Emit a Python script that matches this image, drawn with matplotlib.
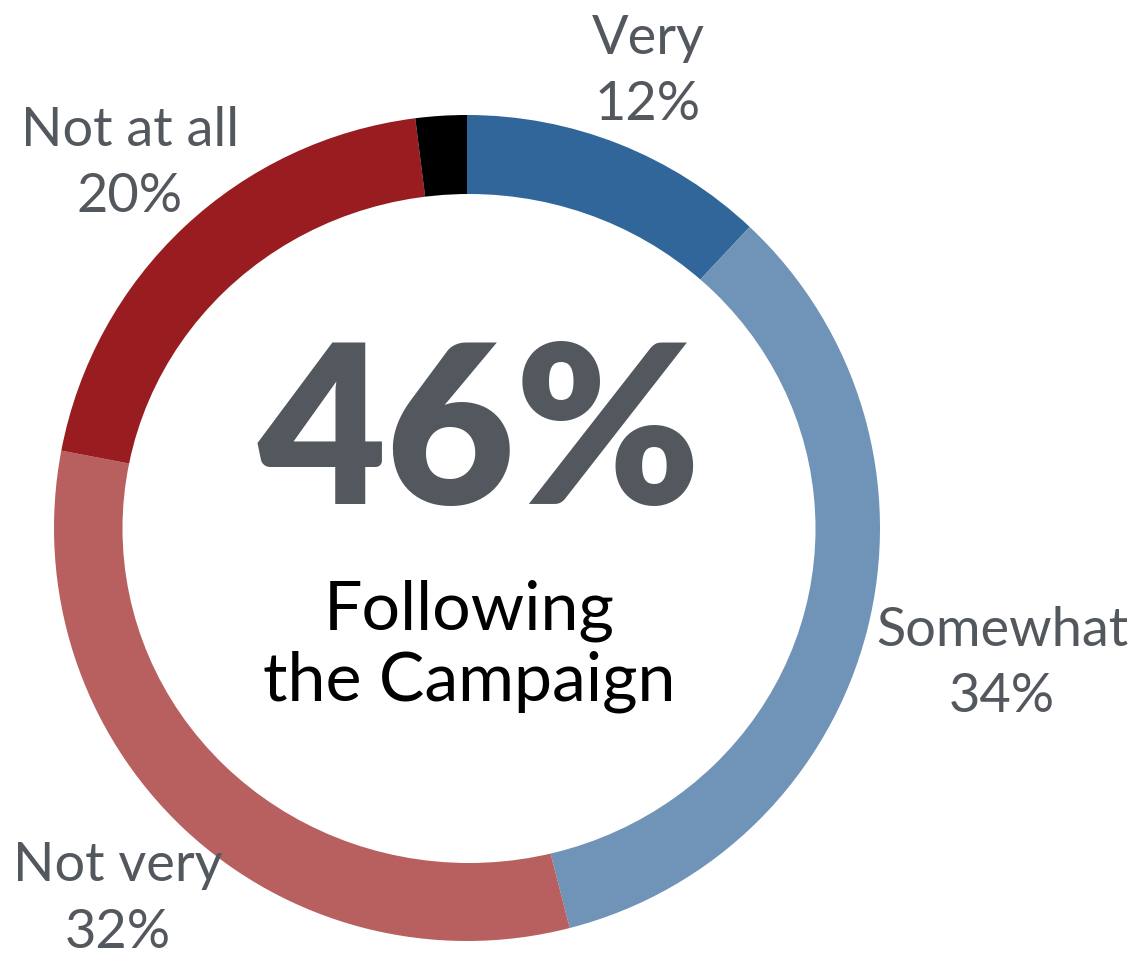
import matplotlib
matplotlib.use("Agg")
import matplotlib.pyplot as plt
from matplotlib.patches import Ellipse

# data
labels = ["Very", "Somewhat", "Not very", "Not at all", ""]
values = [12, 34, 32, 20, 2]
colors = ["#31669A", "#6F94B8", "#B7605F", "#981C20", "#000000"]
headline = "46%"
subtitle = "Following\nthe Campaign"

# label anchor positions in pixels (x, y of label line)
label_pos = [(648, 38), (1002, 630), (118, 866), (130, 130)]

plt.rcParams['font.family'] = ['Lato', 'DejaVu Sans']

fig = plt.figure(figsize=(11.39, 9.58), dpi=100)
ax = fig.add_axes([0, 0, 1, 1])

cx, cy, r = 467, 528, 413
# y axis is inverted below, so -90 is the top and ccw reads clockwise
ax.pie(values, colors=colors, startangle=-90, counterclock=True,
       center=(cx, cy), radius=r, wedgeprops=dict(linewidth=0),
       frame=True)
# the hole in the original is slightly wider than tall
ax.add_patch(Ellipse((469, 528.5), 693, 669, facecolor='white',
                     edgecolor='none', zorder=3))
ax.set_xlim(0, 1139)
ax.set_ylim(958, 0)
ax.axis('off')

grey = "#53575E"
for (x, y), lab, v in zip(label_pos, labels, values):
    ax.text(x, y, lab, ha='center', va='center', fontsize=39, color=grey)
    ax.text(x, y + 66, f"{v}%", ha='center', va='center', fontsize=39, color=grey)

ax.text(cx + 12, 440, headline, ha='center', va='center', fontsize=160,
        fontweight='heavy', color=grey, zorder=4)
ax.text(cx + 2, 646, subtitle, ha='center', va='center', fontsize=49,
        color='black', linespacing=1.18, zorder=4)

fig.savefig("out.png", dpi=100)
